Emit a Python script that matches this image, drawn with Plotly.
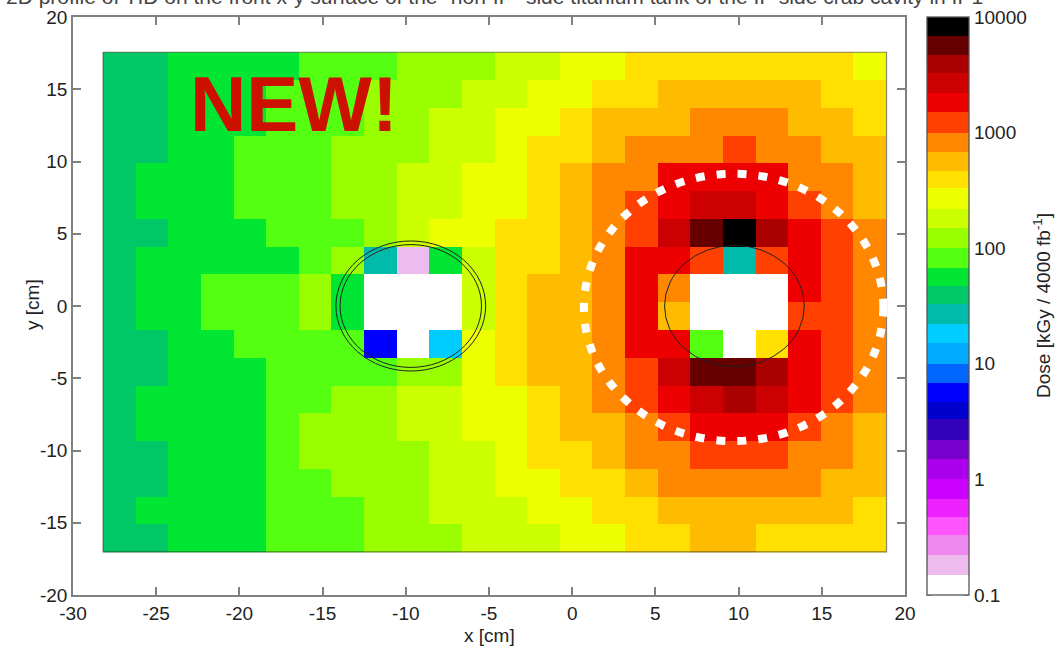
import plotly.graph_objects as go
import numpy as np

# ---------------- data ----------------
# cell centres of the dose map [cm]
x_centers = [-27.21, -25.25, -23.29, -21.32, -19.36, -17.40, -15.44, -13.48,
             -11.51, -9.55, -7.59, -5.63, -3.67, -1.70, 0.26, 2.22,
             4.18, 6.14, 8.11, 10.07, 12.03, 13.99, 15.95, 17.91]
y_centers = [16.60, 14.68, 12.76, 10.84, 8.92, 7.00, 5.07, 3.15, 1.23,
             -0.69, -2.61, -4.53, -6.45, -8.37, -10.29, -12.22, -14.14, -16.06]

N = None  # no value (empty cell)
# dose [kGy / 4000 fb^-1], rows from top (y=+16.6) to bottom (y=-16.1)
dose = [
 [40, 40, 56, 56, 56, 56, 82, 82, 82, 122, 122, 122, 182, 182, 270, 270, 390, 390, 390, 390, 390, 390, 390, 270],
 [40, 40, 56, 56, 56, 82, 82, 82, 122, 122, 122, 182, 182, 270, 270, 390, 390, 565, 565, 565, 565, 565, 390, 390],
 [40, 40, 56, 56, 56, 82, 82, 82, 122, 122, 182, 182, 270, 270, 390, 565, 565, 565, 825, 825, 825, 565, 565, 390],
 [40, 40, 56, 56, 82, 82, 82, 122, 122, 122, 182, 182, 270, 390, 390, 565, 825, 825, 825, 1220, 825, 825, 565, 565],
 [40, 56, 56, 56, 82, 82, 82, 122, 122, 182, 182, 270, 270, 390, 565, 825, 825, 1820, 1820, 1820, 1820, 825, 825, 565],
 [40, 56, 56, 56, 82, 82, 82, 122, 122, 182, 182, 270, 270, 390, 565, 825, 1220, 1820, 2700, 2700, 1820, 1220, 825, 565],
 [40, 40, 56, 56, 56, 82, 82, 82, 122, 182, 270, 270, 390, 390, 565, 825, 1220, 2700, 5650, 8250, 3940, 1820, 1220, 825],
 [40, 56, 56, 56, 56, 56, 82, 122, 27, 0.18, 56, 182, 390, 390, 565, 825, 1820, 1820, 1220, 27, 1220, 1820, 1220, 825],
 [40, 56, 56, 82, 82, 82, 122, 56, N, N, N, 182, 390, 565, 565, 825, 1820, 825, N, N, N, 1820, 1220, 825],
 [40, 56, 56, 82, 82, 82, 122, 56, N, N, N, 182, 390, 565, 565, 825, 1820, 565, N, N, N, 1220, 1220, 825],
 [40, 40, 56, 56, 82, 82, 82, 82, 5.6, N, 18, 270, 390, 565, 565, 825, 1820, 1820, 82, N, 390, 1820, 1220, 825],
 [40, 40, 56, 56, 56, 82, 82, 82, 82, 122, 122, 270, 390, 565, 565, 825, 1220, 2700, 5650, 5650, 3940, 1820, 1220, 825],
 [40, 56, 56, 56, 56, 82, 82, 122, 122, 182, 182, 270, 270, 390, 565, 825, 1220, 1820, 2700, 3940, 2700, 1820, 1220, 825],
 [40, 56, 56, 56, 56, 82, 122, 122, 122, 182, 182, 270, 270, 390, 565, 565, 825, 1220, 1820, 1820, 1820, 1220, 825, 565],
 [40, 40, 56, 56, 56, 82, 122, 122, 122, 122, 182, 182, 270, 390, 390, 565, 825, 825, 1220, 1220, 1220, 825, 825, 565],
 [40, 40, 56, 56, 56, 82, 82, 122, 122, 122, 182, 182, 270, 270, 390, 390, 565, 825, 825, 825, 825, 825, 565, 565],
 [40, 56, 56, 56, 56, 82, 82, 82, 122, 122, 182, 182, 182, 270, 270, 390, 390, 565, 565, 565, 565, 565, 565, 390],
 [40, 40, 56, 56, 56, 82, 82, 82, 122, 122, 122, 182, 182, 182, 270, 270, 390, 390, 565, 565, 390, 390, 390, 390],
]

# palette: one colour per E6 bin, from 0.1 up to 10000
bin_mantissas = [1, 1.5, 2.2, 3.3, 4.7, 6.8]
bin_colors = [
    "#FFFFFF", "#EEBBEE", "#EE88EE", "#FF55FF", "#EE22FF", "#CC00FF",
    "#AA00EE", "#7700CC", "#3300BB", "#0000CC", "#0000FF", "#0066FF",
    "#00AAFF", "#00CCFF", "#00BBAA", "#00C866", "#00E633", "#55FF11",
    "#99FF00", "#CCFF00", "#EEFF00", "#FFE000", "#FFBB00", "#FF8800",
    "#FF4000", "#EE0000", "#CC0000", "#AA0000", "#660000", "#000000",
]
cb_tickvals = [0.1, 1, 10, 100, 1000, 10000]
cb_ticktext = ["0.1", "1", "10", "100", "1000", "10000"]
x_tickvals = [-30, -25, -20, -15, -10, -5, 0, 5, 10, 15, 20]
x_ticktext = ["-30", "-25", "-20", "-15", "-10", "-5", "0", "5", "10", "15", "20"]
y_tickvals = [-20, -15, -10, -5, 0, 5, 10, 15, 20]
y_ticktext = ["-20", "-15", "-10", "-5", "0", "5", "10", "15", "20"]

# geometry of overlays
hole_left = (-9.7, 0.0)
hole_right = (9.75, 0.0)
left_radii = [4.25, 4.5]
right_radius = 4.2
dotted_center = (9.7, -0.1)
dotted_rx, dotted_ry = 9.0, 9.25

title_text = ("2D profile of TID on the front x-y surface of the \"non-IP\" side "
              "titanium tank of the IP side crab cavity in IP1")

# ---------------- build ----------------
FONT = "Liberation Sans, Arial, sans-serif"
zmin, zmax = -1.0, 4.0
edges = []
for dec in range(-1, 4):
    for m in bin_mantissas:
        edges.append(np.log10(m) + dec)
edges.append(4.0)
colorscale = []
for i, c in enumerate(bin_colors):
    lo = (edges[i] - zmin) / (zmax - zmin)
    hi = (edges[i + 1] - zmin) / (zmax - zmin)
    colorscale.append([lo, c])
    colorscale.append([hi, c])
colorscale[0][0] = 0.0
colorscale[-1][0] = 1.0

z = [[(np.log10(v) if v is not None else None) for v in row] for row in dose]

# figure pixel geometry
W, H = 1058, 646
ml, mr, mt, mb = 73, 153, 17, 51
pw, ph = W - ml - mr, H - mt - mb
cb_left, cb_right = 926.7, 968.3


def px_x(p):
    return (p - ml) / pw


def px_y(p):
    return (H - mb - p) / ph


fig = go.Figure()
fig.add_trace(go.Heatmap(
    x=x_centers, y=y_centers, z=z,
    zmin=zmin, zmax=zmax, colorscale=colorscale,
    hoverongaps=False,
    colorbar=dict(
        x=px_x(cb_left), xanchor="left", xpad=0,
        y=1.0, yanchor="top", ypad=0,
        len=1.0, lenmode="fraction",
        thickness=cb_right - cb_left, thicknessmode="pixels",
        outlinewidth=1.3, outlinecolor="#555555",
        tickvals=[np.log10(v) for v in cb_tickvals], ticktext=cb_ticktext,
        ticks="",
        tickfont=dict(family=FONT, size=19, color="#222222"),
    ),
))

# small tick marks on both edges of the colour bar (log decades)
for dec in range(-1, 4):
    for k in range(1, 10):
        v = np.log10(k) + dec
        yy = (v - zmin) / (zmax - zmin)
        L = 5 if k == 1 else 3.5
        for xa, xb in ((cb_left, cb_left + L), (cb_right - L, cb_right)):
            fig.add_shape(type="line", xref="paper", yref="paper",
                          x0=px_x(xa), x1=px_x(xb), y0=yy, y1=yy,
                          line=dict(color="#444444", width=1))

# outline of the map
dx = x_centers[1] - x_centers[0]
dy = y_centers[0] - y_centers[1]
fig.add_shape(type="rect", xref="x", yref="y",
              x0=x_centers[0] - dx / 2, x1=x_centers[-1] + dx / 2,
              y0=y_centers[-1] - dy / 2, y1=y_centers[0] + dy / 2,
              line=dict(color="rgba(40,40,20,0.55)", width=1.2))

for r in left_radii:
    fig.add_shape(type="circle", xref="x", yref="y",
                  x0=hole_left[0] - r, x1=hole_left[0] + r,
                  y0=hole_left[1] - r, y1=hole_left[1] + r,
                  line=dict(color="#222222", width=1))
fig.add_shape(type="circle", xref="x", yref="y",
              x0=hole_right[0] - right_radius, x1=hole_right[0] + right_radius,
              y0=hole_right[1] - right_radius, y1=hole_right[1] + right_radius,
              line=dict(color="#222222", width=1))
fig.add_shape(type="circle", xref="x", yref="y",
              x0=dotted_center[0] - dotted_rx, x1=dotted_center[0] + dotted_rx,
              y0=dotted_center[1] - dotted_ry, y1=dotted_center[1] + dotted_ry,
              line=dict(color="white", width=8, dash="9px,12px"))

fig.add_annotation(text="<b>NEW!</b>", xref="x", yref="y", x=-23.1, y=14.0,
                   xanchor="left", yanchor="middle", showarrow=False,
                   font=dict(family=FONT, size=78, color="#CC1100"))

# title (partly outside the top of the page, as in the original)
fig.add_annotation(text=title_text, xref="paper", yref="paper",
                   x=px_x(4), y=px_y(-4), xanchor="left", yanchor="middle",
                   showarrow=False, font=dict(family=FONT, size=21, color="#444444"))

fig.add_annotation(text="Dose [kGy / 4000 fb<sup>-1</sup>]", xref="paper", yref="paper",
                   x=px_x(1042), y=px_y(306), textangle=-90,
                   xanchor="center", yanchor="middle", showarrow=False,
                   font=dict(family=FONT, size=19, color="#222222"))
fig.add_annotation(text="x [cm]", xref="paper", yref="paper",
                   x=px_x(489), y=px_y(635), xanchor="center", yanchor="middle",
                   showarrow=False, font=dict(family=FONT, size=19, color="#222222"))
fig.add_annotation(text="y [cm]", xref="paper", yref="paper",
                   x=px_x(32), y=px_y(305), textangle=-90,
                   xanchor="center", yanchor="middle",
                   showarrow=False, font=dict(family=FONT, size=19, color="#222222"))

axis_common = dict(showgrid=False, zeroline=False, showline=True, linecolor="#808080",
                   linewidth=1.5, mirror="ticks", ticks="inside", ticklen=8,
                   tickcolor="#808080", tickwidth=1.5,
                   tickfont=dict(family=FONT, size=19, color="#222222"))
fig.update_xaxes(range=[-30, 20], tickvals=x_tickvals, ticktext=x_ticktext, **axis_common)
fig.update_yaxes(range=[-20, 20], tickvals=y_tickvals, ticktext=y_ticktext, **axis_common)

fig.update_layout(width=W, height=H, margin=dict(l=ml, r=mr, t=mt, b=mb, autoexpand=False),
                  plot_bgcolor="white", paper_bgcolor="white", showlegend=False)

fig.write_html("out.html")
